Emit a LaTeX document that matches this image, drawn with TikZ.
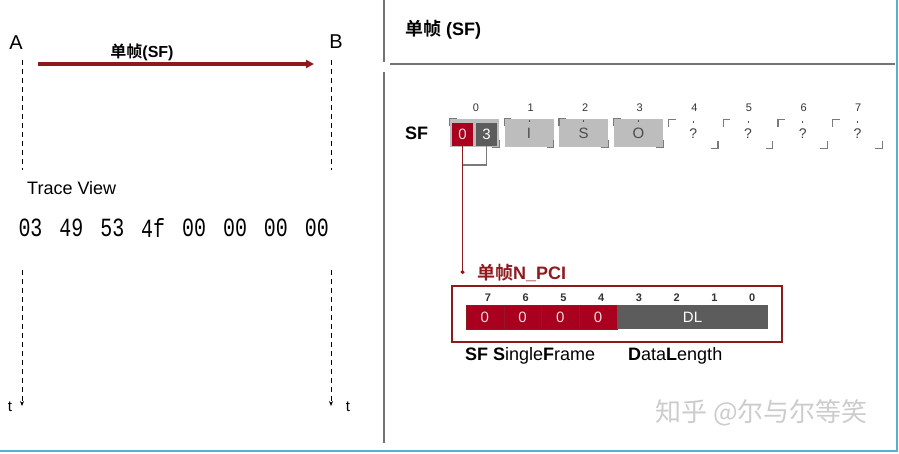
\documentclass[tikz,border=0pt]{standalone}
\usepackage{fontspec}
\setmainfont{Liberation Sans}
\newfontfamily\cjk{Noto Sans CJK SC}[BoldFont={Noto Sans CJK SC Bold}]
\newfontfamily\hexfont{Liberation Mono}
\usetikzlibrary{arrows.meta,positioning}
\definecolor{darkRed}{HTML}{8E1A1E}
\definecolor{bitRed}{HTML}{A8001E}
\definecolor{darkGrey}{HTML}{5C5C5C}
\definecolor{lightGrey}{HTML}{BDBDBD}
\definecolor{cornerGrey}{HTML}{7A7A7A}
\definecolor{frameBlue}{HTML}{5BAED0}
\tikzset{
  txt/.style={inner sep=0pt, font=\fontsize{18}{20}\selectfont},
  timeline/.style={line width=1pt, dash pattern=on 5pt off 4pt},
  hexbyte/.style={inner sep=0pt, font=\hexfont\fontsize{21}{24}\selectfont},
  idx/.style={inner sep=0pt, text=black!80, font=\fontsize{11}{12}\selectfont},
  bytebox/.style={fill=lightGrey, minimum width=49pt, minimum height=28pt, inner sep=0pt,
    text=black!70, font=\fontsize{15}{16}\selectfont},
  emptybox/.style={minimum width=49pt, minimum height=28pt, inner sep=0pt,
    text=black!75, font=\fontsize{14}{16}\selectfont},
  bitbox/.style={fill=bitRed, draw=darkRed, minimum height=24pt, inner sep=0pt,
    text=white!85!bitRed, font=\fontsize{15}{16}\selectfont},
  corner/.style={cornerGrey, line width=1.2pt},
  sepline/.style={black!55, line width=1.5pt}
}
\begin{document}
\begin{tikzpicture}[x=1pt,y=-1pt]
\useasboundingbox (0,0) rectangle (899,453);

% left side: A -> B
\node[txt, font=\fontsize{20}{22}\selectfont] (A) at (16,43) {A};
\node[txt, font=\fontsize{20}{22}\selectfont] (B) at (336,42) {B};
\coordinate (A1) at (22,60);  \coordinate (A2) at (22,170);
\coordinate (A3) at (22,270); \coordinate (A4) at (22,406);
\coordinate (B1) at (331,60);  \coordinate (B2) at (331,170);
\coordinate (B3) at (331,270); \coordinate (B4) at (331,406);
\draw[timeline] (A1) -- (A2);
\draw[timeline] (B1) -- (B2);
\draw[timeline,-{Stealth[length=5pt,width=4pt]}] (A3) -- (A4);
\draw[timeline,-{Stealth[length=5pt,width=4pt]}] (B3) -- (B4);
\node[txt, font=\fontsize{15}{16}\selectfont] (tA) at (10,407) {t};
\node[txt, font=\fontsize{15}{16}\selectfont] (tB) at (348,407) {t};

\coordinate (sfFrom) at (38,64);
\coordinate (sfTo) at (314,64);
\draw[darkRed, line width=3.5pt, -{Triangle[length=8pt,width=8pt]}] (sfFrom) -- (sfTo);
\node[txt, font=\bfseries\fontsize{16}{18}\selectfont] (sfMsg) at (142,52) {{\cjk 单帧}(SF)};

\node[txt, anchor=west] (trace) at (27,188) {Trace View};
\foreach \b [count=\i from 0] in {03,49,53,4f,00,00,00,00}
  \node[hexbyte] (hex\i) at (30.5+40.9*\i,228) {\scalebox{0.95}[1.25]{\b}};

% separators
\draw[sepline] (384,0) -- (384,62);
\draw[sepline] (384,72) -- (384,443);
\draw[sepline] (390,64) -- (895,64);
\node[txt, anchor=west, font=\bfseries\fontsize{18}{20}\selectfont] (title) at (405,30) {{\cjk 单帧} (SF)};

% SF bytes
\node[txt, anchor=west, font=\bfseries\fontsize{18}{20}\selectfont] (sf) at (405,133) {SF};
\node[bytebox, text=white] (b0) at (474.5,133) {};
\node[fill=bitRed, minimum width=21pt, minimum height=23pt, inner sep=0pt, text=white!85!bitRed,
  font=\fontsize{15}{16}\selectfont] (b0pci) at (462.5,134.5) {0};
\node[fill=darkGrey, minimum width=21pt, minimum height=23pt, inner sep=0pt, text=white!85,
  font=\fontsize{15}{16}\selectfont] (b0dl) at (486.5,134.5) {3};
\foreach \t [count=\i] in {I,S,O}
  \node[bytebox] (b\i) at (529+54.7*\i-54.7,133) {\t};
\foreach \i in {4,...,7}
  \node[emptybox] (b\i) at (474.5+54.7*\i,134) {?};
\foreach \i in {0,...,7} {
  \node[idx] (n\i) at (476+54.6*\i,108) {\i};
  \draw[corner] ([yshift=-7pt]b\i.north west) -- (b\i.north west) -- ([xshift=7pt]b\i.north west);
  \draw[corner] ([xshift=-7pt]b\i.south east) -- (b\i.south east) -- ([yshift=7pt]b\i.south east);
}
\foreach \i in {1,...,7}
  \draw[black!70, line width=1pt] ([yshift=-1pt]b\i.north) -- ([yshift=-3.5pt]b\i.north);

% link to N_PCI
\coordinate (pciEnd) at (b0pci.south |- 0,274);
\coordinate (dlJoin) at (b0pci.south |- 0,165);
\draw[darkRed, line width=1.2pt, -{Circle[length=4pt]}] (b0pci.south) -- (pciEnd);
\draw[cornerGrey, line width=1.2pt] (b0dl.south) |- (dlJoin);
\node[txt, anchor=west, text=darkRed, font=\bfseries\fontsize{18}{20}\selectfont] (pciTitle) at (477,273) {{\cjk 单帧}N\_PCI};

% N_PCI byte
\node[draw=darkRed, line width=1.5pt, minimum width=330pt, minimum height=56pt, inner sep=0pt] (pci) at (617,314) {};
\foreach \i in {0,...,3}
  \node[bitbox, minimum width=37.75pt] (bit\i) at (484.9+37.75*\i,317) {0};
\node[fill=darkGrey, minimum width=151pt, minimum height=24pt, inner sep=0pt, text=white!85,
  font=\fontsize{15}{16}\selectfont] (dl) at (692.5,317) {DL};
\foreach \n [count=\i from 0] in {7,...,0}
  \node[idx, font=\bfseries\fontsize{11}{12}\selectfont] (bn\i) at (488+37.75*\i,298) {\n};
\node[txt, anchor=west] (sfText) at (465,356) {\textbf{SF S}ingle\textbf{F}rame};
\node[txt, anchor=west] (dlText) at (628,356) {\textbf{D}ata\textbf{L}ength};

% watermark and frame
\node[txt, anchor=west, text=black!20, font=\cjk\fontsize{26}{28}\selectfont] (mark) at (655,413) {知乎 @尔与尔等笑};
\draw[frameBlue, line width=2pt] (0,451) -- (897,451) -- (897,0);
\end{tikzpicture}
\end{document}
